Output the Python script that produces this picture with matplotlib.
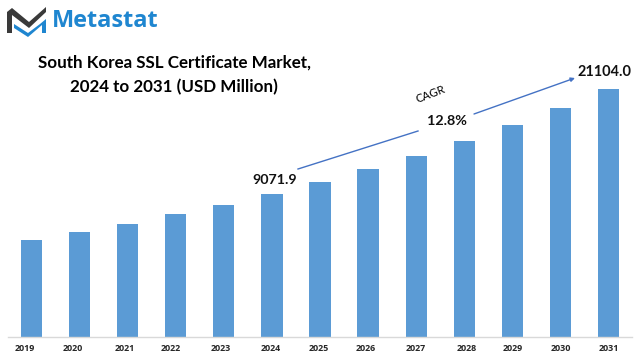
import matplotlib
matplotlib.use("Agg")
from matplotlib import pyplot as plt
from matplotlib.patches import Polygon
from matplotlib.transforms import ScaledTranslation

# Data
years = ["2019", "2020", "2021", "2022", "2023", "2024", "2025",
         "2026", "2027", "2028", "2029", "2030", "2031"]
values = [8255, 8936, 9616, 10467, 11233, 12169, 13190,
          14297, 15403, 16679, 18041, 19488, 21104]
start_label = "9071.9"
end_label = "21104.0"
cagr_value = "12.8%"
title = "South Korea SSL Certificate Market,\n2024 to 2031 (USD Million)"

W, H = 638, 356
plt.rcParams["font.family"] = ["Lato", "DejaVu Sans"]

fig = plt.figure(figsize=(W / 100, H / 100), dpi=100)

# Full figure overlay in pixel coordinates, y pointing down
ov = fig.add_axes([0, 0, 1, 1], zorder=3)
ov.set_xlim(0, W)
ov.set_ylim(H, 0)
ov.axis("off")

# Plot area
left, right, top, base = 8, 632, 20, 337
ax = fig.add_axes([left / W, 1 - base / H, (right - left) / W, (base - top) / H])
xs = list(range(len(years)))
ax.bar(xs, values, width=0.44, color="#5B9BD5")
ax.set_xlim(-0.49, 12.49)
ax.set_ylim(0, 21104 * (base - top) / 248)
for s in ["top", "left", "right"]:
    ax.spines[s].set_visible(False)
ax.spines["bottom"].set_color("#D9D9D9")
ax.spines["bottom"].set_linewidth(1.0)
ax.set_yticks([])
ax.set_xticks(xs)
ax.set_xticklabels(years, fontsize=6.4, fontweight="bold", color="#262626",
                   family=["Open Sans", "DejaVu Sans"])
ax.tick_params(axis="x", length=0, pad=5.2)

# the year labels are not centred under their bars in the original (px shift)
label_shift = [-7, -7, -3, -5, -3, -1, -1, -2.5, -0.5, 2, 0, 0, 0]
for lab, dx in zip(ax.get_xticklabels(), label_shift):
    lab.set_transform(lab.get_transform() + ScaledTranslation(dx / 100, 0, fig.dpi_scale_trans))

# Title
ov.text(174, 75, title, ha="center", va="center", fontsize=12.25,
        fontweight="bold", color="black", linespacing=1.58)

# Value labels
ov.text(275, 180, start_label, ha="center", va="center", fontsize=10.3, fontweight="bold", color="#111111")
ov.text(604.5, 72, end_label, ha="center", va="center", fontsize=10.45, fontweight="bold", color="#111111")
ov.text(447, 121, cagr_value, ha="center", va="center", fontsize=10.4, fontweight="bold", color="#111111")
ov.text(430.5, 94, "CAGR", ha="center", va="center", fontsize=8.2, rotation=21, color="#000000")

# CAGR arrow in two pieces
ov.plot([298, 418], [169, 131], color="#4472C4", lw=1.0)
ov.annotate("", xy=(575, 78), xytext=(474, 114),
            arrowprops=dict(arrowstyle="-|>", color="#4472C4", lw=1.0, mutation_scale=6,
                            shrinkA=0, shrinkB=0))

# Logo
ov.add_patch(Polygon([(7, 33), (7, 12), (12, 8), (29, 22), (46, 7), (46, 12), (29, 28), (12, 15), (12, 33)],
                     closed=True, color="#3A3A3A", lw=0))
ov.add_patch(Polygon([(14, 24), (28, 33), (40, 24), (46, 19), (46, 33), (42, 33), (42, 25), (28, 37), (14, 28)],
                     closed=True, color="#1F86D0", lw=0))
ov.text(52, 21, "Metastat", ha="left", va="center", fontsize=16.9, fontweight="bold", color="#1F86D0",
        family=["Open Sans", "DejaVu Sans"])

fig.savefig("out.png", dpi=100)
